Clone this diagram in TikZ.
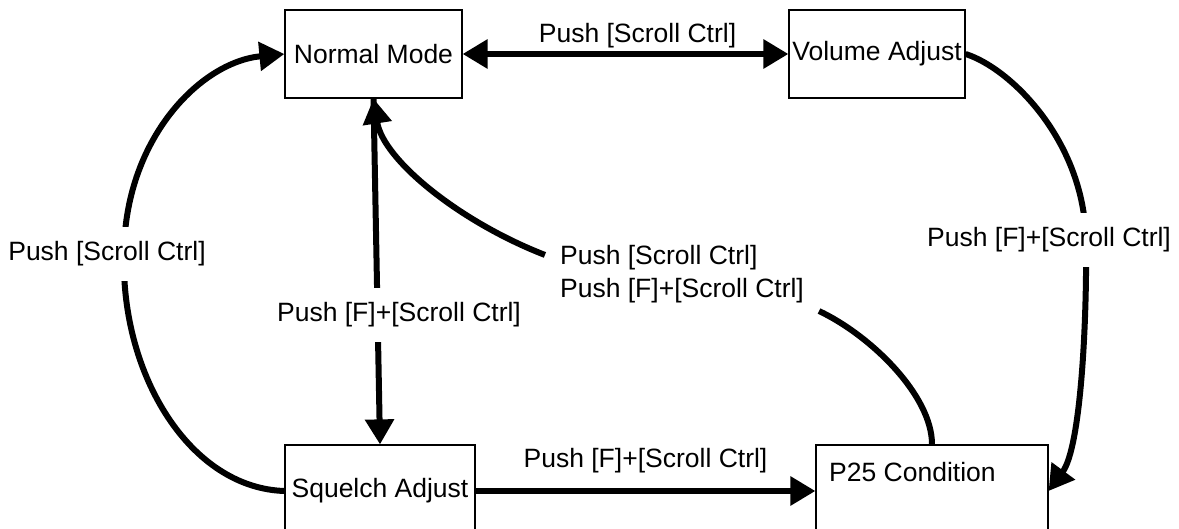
\documentclass[tikz,border=0pt]{standalone}
\usepackage{fontspec}
\setmainfont{Liberation Sans}
\usetikzlibrary{arrows.meta}

\begin{document}
\begin{tikzpicture}[
    x=1pt, y=-1pt,
    font=\fontsize{26.5}{33}\selectfont,
    box/.style={draw, line width=1.2pt, inner sep=0pt, minimum height=88pt},
    conn/.style={line width=6pt},
    arr/.style={conn, -{Triangle[length=25pt, width=28pt]}},
    dbl/.style={conn, {Triangle[length=25pt, width=28pt]}-{Triangle[length=25pt, width=28pt]}},
    lbl/.style={fill=white, inner xsep=3pt, inner ysep=14.5pt}
  ]
    \useasboundingbox (0,0) rectangle (1179,529);
    \node[box, minimum width=177pt] (nm) at (373.5,54) {Normal Mode};
    \node[box, minimum width=176pt] (va) at (877,54) {Volume Adjust};
    \node[box, minimum width=190pt, minimum height=92pt] (sa) at (380,491) {Squelch Adjust};
    \node[box, minimum width=232pt, minimum height=92pt] (p25) at (932,491) {};
    \node[anchor=west, inner sep=0pt] (p25txt) at (829,472) {P25 Condition};
    \node[align=left, inner xsep=15pt, inner ysep=8pt] (back) at (682,274) {Push [Scroll Ctrl]\\Push [F]+[Scroll Ctrl]};

    \draw[dbl] (nm.east) -- (va.west) node[midway, above=3pt, inner sep=0pt, xshift=12pt] (nmva) {Push [Scroll Ctrl]};
    \draw[arr] (nm.south) -- (sa.north);
    \draw[arr] (sa.east) -- (p25.west) node[midway, above=15pt, inner sep=0pt] (sap25) {Push [F]+[Scroll Ctrl]};
    \draw[arr] (sa.west) .. controls (190,488) and (121,375) .. (124,255) .. controls (124,140) and (200,62) .. (nm.west);
    \draw[arr] (va.east) .. controls (1010,68) and (1084,140) .. (1086,240) .. controls (1087,320) and (1081,447) .. (p25.east);
    \draw[conn] (p25.north) .. controls (932,395) and (870,335) .. (back.south east);
    \draw[arr] ([yshift=-18pt]back.north west) .. controls (460,222) and (383,160) .. (nm.south);

    \node[lbl] (sanm) at (107,254) {Push [Scroll Ctrl]};
    \node[lbl] (nmsa) at (399,315) {Push [F]+[Scroll Ctrl]};
    \node[lbl] (vap25) at (1049,240) {Push [F]+[Scroll Ctrl]};
\end{tikzpicture}
\end{document}
